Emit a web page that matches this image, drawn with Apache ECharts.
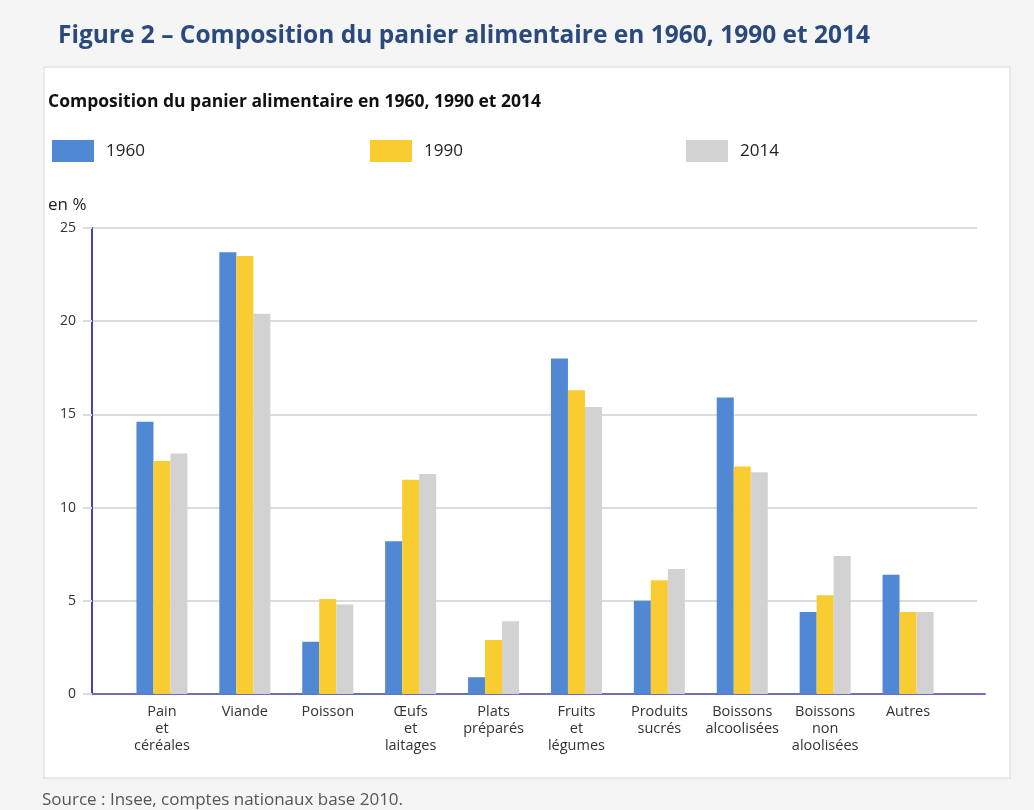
<!DOCTYPE html>
<html>
<head>
<meta charset="utf-8">
<script src="https://cdn.jsdelivr.net/npm/echarts@6/dist/echarts.min.js"></script>
<style>
  html, body { margin: 0; padding: 0; background: #f5f5f5; }
  #chart { width: 1034px; height: 810px; }
</style>
</head>
<body>
<div id="chart"></div>
<script>
const categories = ['Pain\net\ncéréales', 'Viande', 'Poisson', 'Œufs\net\nlaitages', 'Plats\npréparés', 'Fruits\net\nlégumes', 'Produits\nsucrés', 'Boissons\nalcoolisées', 'Boissons\nnon\naloolisées', 'Autres'];
const s1960 = [14.6, 23.7, 2.8, 8.2, 0.9, 18.0, 5.0, 15.9, 4.4, 6.4];
const s1990 = [12.5, 23.5, 5.1, 11.5, 2.9, 16.3, 6.1, 12.2, 5.3, 4.4];
const s2014 = [12.9, 20.4, 4.8, 11.8, 3.9, 15.4, 6.7, 11.9, 7.4, 4.4];
const seriesNames = ['1960', '1990', '2014'];
const yTicks = [0, 5, 10, 15, 20, 25];

const colors = ['#5088d3', '#f9cd32', '#d2d2d2'];
const font = 'Open Sans';
const chart = echarts.init(document.getElementById('chart'));

function legendAt(name, left) {
  return {
    data: [name], left: left, top: 140, padding: 0, itemWidth: 42, itemHeight: 22,
    icon: 'rect', selectedMode: false,
    textStyle: { fontFamily: font, fontSize: 17, color: '#222', padding: [0, 0, 0, 7] }
  };
}

chart.setOption({
  backgroundColor: '#f5f5f5',
  animation: false,
  graphic: [
    { type: 'rect', shape: { x: 44, y: 67, width: 966, height: 711 },
      style: { fill: '#ffffff', stroke: '#e4e4e4', lineWidth: 1.5 }, z: -10 }
  ],
  title: [
    { text: 'Figure 2 – Composition du panier alimentaire en 1960, 1990 et 2014', left: 58, top: 24, padding: 0,
      textStyle: { fontFamily: font, fontSize: 24.5, fontWeight: 'bold', color: '#2a4a7d' } },
    { text: 'Composition du panier alimentaire en 1960, 1990 et 2014', left: 48, top: 93, padding: 0,
      textStyle: { fontFamily: font, fontSize: 17.5, fontWeight: 'bold', color: '#111' } },
    { text: 'en %', left: 48, top: 197, padding: 0,
      textStyle: { fontFamily: font, fontSize: 17, fontWeight: 'normal', color: '#222' } },
    { text: 'Source : Insee, comptes nationaux base 2010.', left: 42, top: 792, padding: 0,
      textStyle: { fontFamily: font, fontSize: 17, fontWeight: 'normal', color: '#555' } }
  ],
  legend: [legendAt('1960', 52), legendAt('1990', 370), legendAt('2014', 686)],
  grid: [
    { left: 92, right: 57, top: 228, bottom: 116 },
    { left: 120.5, right: 84.5, top: 228, bottom: 116 },
    { left: 92, right: 49, top: 228, bottom: 116 }
  ],
  xAxis: [
    { type: 'category', gridIndex: 0, data: categories, axisLine: { show: false }, axisTick: { show: false }, axisLabel: { show: false } },
    { type: 'category', gridIndex: 1, data: categories, axisLine: { show: false }, axisTick: { show: false },
      axisLabel: { interval: 0, margin: 9, fontFamily: font, fontSize: 14.5, lineHeight: 17, color: '#333' } },
    { type: 'category', gridIndex: 2, data: categories, axisLine: { show: true, lineStyle: { color: '#6a6fc2', width: 2 } },
      axisTick: { show: false }, axisLabel: { show: false } }
  ],
  yAxis: [
    { type: 'value', gridIndex: 0, min: 0, max: 25, interval: 5,
      axisLine: { show: true, lineStyle: { color: '#3d46b3', width: 2 } },
      axisTick: { show: true, length: 9, lineStyle: { color: '#dcdcdc', width: 2 } },
      splitLine: { show: true, lineStyle: { color: '#dcdcdc', width: 2 } },
      axisLabel: { margin: 16, fontFamily: font, fontSize: 14, color: '#333',
        formatter: v => yTicks.includes(v) ? String(v) : '' } },
    { type: 'value', gridIndex: 1, min: 0, max: 25, interval: 5, show: false },
    { type: 'value', gridIndex: 2, min: 0, max: 25, interval: 5, show: false }
  ],
  series: [s1960, s1990, s2014].map((d, i) => ({
    name: seriesNames[i], type: 'bar', xAxisIndex: 1, yAxisIndex: 1,
    data: d, barWidth: 17, barGap: '0%', itemStyle: { color: colors[i] }
  }))
});
</script>
</body>
</html>
